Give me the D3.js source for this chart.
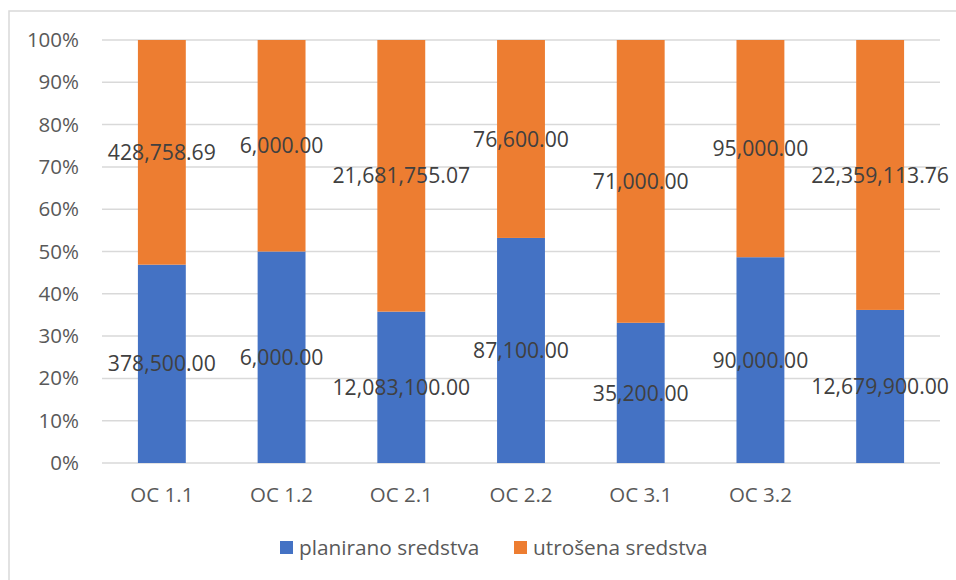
<!DOCTYPE html>
<html>
<head>
<meta charset="utf-8">
<script src="https://cdn.jsdelivr.net/npm/d3@7"></script>
<style>
  html, body { margin: 0; padding: 0; background: #fff; }
  svg { display: block; font-family: "Open Sans", "Liberation Sans", sans-serif; }
</style>
</head>
<body>
<svg id="chart" width="956" height="580"></svg>
<script>
const categories = ["OC 1.1", "OC 1.2", "OC 2.1", "OC 2.2", "OC 3.1", "OC 3.2", ""];
const planirano = [378500.00, 6000.00, 12083100.00, 87100.00, 35200.00, 90000.00, 12679900.00];
const utrosena = [428758.69, 6000.00, 21681755.07, 76600.00, 71000.00, 95000.00, 22359113.76];
const seriesNames = ["planirano sredstva", "utrošena sredstva"];
const seriesKeys = ["planirano", "utrosena"];
const seriesColors = ["#4472C4", "#ED7D31"];
const yTicks = [0, 0.1, 0.2, 0.3, 0.4, 0.5, 0.6, 0.7, 0.8, 0.9, 1.0];

(function () {
const rows = categories.map((c, i) => ({ cat: i, label: c, planirano: planirano[i], utrosena: utrosena[i] }));

const svg = d3.select("#chart");
const W = 956, H = 580;
const pLeft = 102, pRight = 940, pTop = 40, pBottom = 463;

// outer chart border
svg.append("rect").attr("x", 9).attr("y", 11).attr("width", W + 10).attr("height", H + 10)
  .attr("fill", "#fff").attr("stroke", "#d9d9d9").attr("stroke-width", 1.5);

const x = d3.scaleBand().domain(rows.map(r => r.cat)).range([pLeft, pRight])
  .paddingInner(0.6).paddingOuter(0.3);
const y = d3.scaleLinear().domain([0, 1]).range([pBottom, pTop]);

// gridlines
svg.append("g").selectAll("line").data(yTicks).join("line")
  .attr("x1", pLeft).attr("x2", pRight)
  .attr("y1", d => y(d)).attr("y2", d => y(d))
  .attr("stroke", "#d9d9d9").attr("stroke-width", 1.5);

// y axis labels
const yAxis = d3.axisLeft(y).tickValues(yTicks).tickFormat(d3.format(".0%")).tickSize(0).tickPadding(0);
const yg = svg.append("g").attr("transform", `translate(${79},0)`).call(yAxis);
yg.select(".domain").remove();
yg.selectAll("text").attr("fill", "#595959").style("font-size", "20.5px")
  .style("font-family", "'Open Sans', sans-serif");

// stacked bars
const stack = d3.stack().keys(seriesKeys).offset(d3.stackOffsetExpand);
const stacked = stack(rows);

const layers = svg.append("g").selectAll("g").data(stacked).join("g")
  .attr("fill", (d, i) => seriesColors[i]);
layers.selectAll("rect").data(d => d).join("rect")
  .attr("x", d => x(d.data.cat))
  .attr("width", x.bandwidth())
  .attr("y", d => y(d[1]))
  .attr("height", d => y(d[0]) - y(d[1]));

// data labels
const fmt = d3.format(",.2f");
const lbl = svg.append("g");
stacked.forEach((layer, si) => {
  lbl.selectAll(null).data(layer).join("text")
    .attr("x", d => x(d.data.cat) + x.bandwidth() / 2)
    .attr("y", d => y((d[0] + d[1]) / 2))
    .attr("dy", "0.36em")
    .attr("text-anchor", "middle")
    .attr("fill", "#404040")
    .style("font-size", "21.2px")
    .text(d => fmt(d.data[seriesKeys[si]]));
});

// x axis labels
const xAxis = d3.axisBottom(x).tickFormat(i => categories[i]).tickSize(0).tickPadding(0);
const xg = svg.append("g").attr("transform", `translate(0,${pBottom + 39})`).call(xAxis);
xg.select(".domain").remove();
xg.selectAll("text").attr("fill", "#595959").attr("dy", 0).style("font-size", "20.5px")
  .style("font-family", "'Open Sans', sans-serif");

// legend
const legendX = [280, 514];
const leg = svg.append("g");
seriesNames.forEach((name, i) => {
  leg.append("rect").attr("x", legendX[i]).attr("y", 541).attr("width", 13).attr("height", 13)
    .attr("fill", seriesColors[i]);
  leg.append("text").attr("x", legendX[i] + 19).attr("y", 555)
    .attr("fill", "#595959").style("font-size", "20.8px").text(name);
});
})();
</script>
</body>
</html>
